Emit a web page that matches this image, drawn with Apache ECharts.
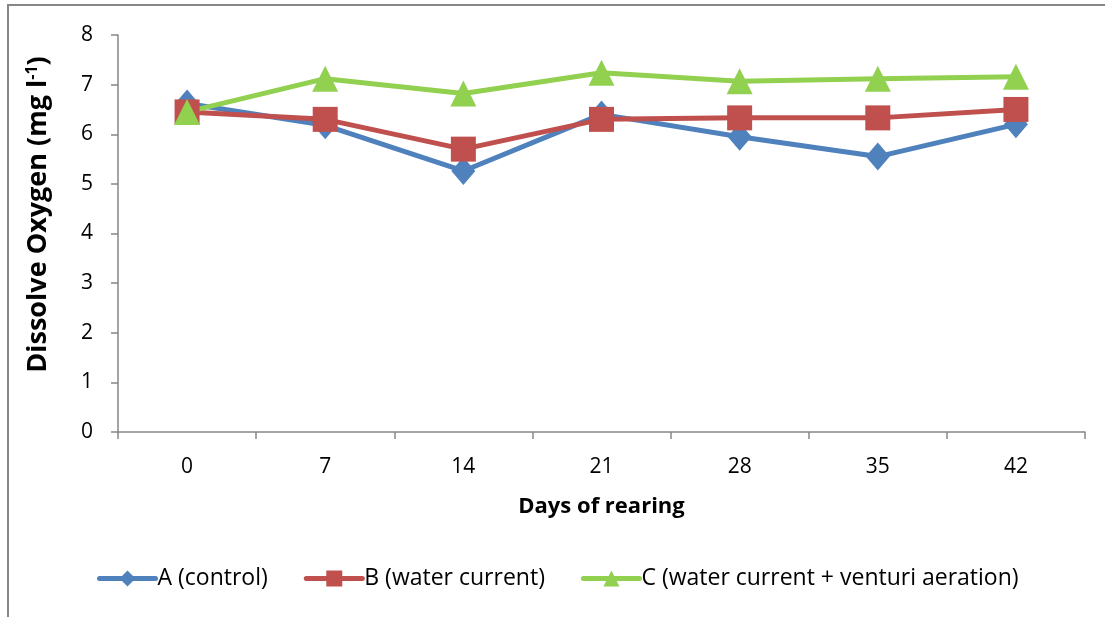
<!DOCTYPE html>
<html><head><meta charset="utf-8">
<script src="https://cdn.jsdelivr.net/npm/echarts@6/dist/echarts.min.js"></script>
<style>html,body{margin:0;padding:0;background:#fff}#c{width:1105px;height:617px}</style>
</head><body><div id="c"></div>
<script>
const days = ['0','7','14','21','28','35','42'];
const seriesA = [6.62, 6.18, 5.26, 6.40, 5.95, 5.55, 6.20];
const seriesB = [6.45, 6.30, 5.70, 6.30, 6.33, 6.33, 6.50];
const seriesC = [6.45, 7.12, 6.82, 7.24, 7.07, 7.12, 7.16];
const names = ['A (control)', 'B (water current)', 'C (water current + venturi aeration)'];
const yTicks = [0, 1, 2, 3, 4, 5, 6, 7, 8];

const font = 'Open Sans';
const chart = echarts.init(document.getElementById('c'));
const mk = (name, data, color, symbol, size) => ({
  name, type: 'line', data, symbol, symbolSize: size,
  lineStyle: {color, width: 5}, itemStyle: {color},
  emphasis: {disabled: true}, animation: false
});
chart.setOption({
  animation: false,
  graphic: [{type: 'rect', shape: {x: 8, y: 5, width: 1200, height: 700},
    style: {fill: 'none', stroke: '#878787', lineWidth: 2}, silent: true}],
  grid: {left: 118, right: 20, top: 35, bottom: 185},
  legend: {
    bottom: 22, left: 92, itemWidth: 56, itemHeight: 20, itemGap: 36,
    lineStyle: {width: 5, cap: 'round'},
    textStyle: {fontFamily: font, fontSize: 23, color: '#000', padding: [0, 0, 0, -3]},
    data: names
  },
  xAxis: {
    type: 'category', data: days, boundaryGap: true,
    name: 'Days of rearing', nameLocation: 'middle', nameGap: 64,
    nameTextStyle: {fontFamily: font, fontSize: 22, fontWeight: 'bold', color: '#000'},
    axisLine: {lineStyle: {color: '#868686', width: 1.5}},
    axisTick: {show: true, alignWithLabel: false, length: 7, lineStyle: {color: '#868686', width: 1.5}},
    axisLabel: {fontFamily: font, fontSize: 21, color: '#000', margin: 25}
  },
  yAxis: {
    type: 'value', min: 0, max: 8, interval: 1,
    name: 'Dissolve Oxygen (mg l{sup|-1})', nameLocation: 'middle', nameGap: 66, nameRotate: 90,
    nameTextStyle: {fontFamily: font, fontSize: 27, fontWeight: 'bold', color: '#000', padding: [0, 0, 0, 38],
      rich: {sup: {fontFamily: font, fontSize: 16, fontWeight: 'bold', color: '#000', verticalAlign: 'top', padding: [0,0,12,0]}}},
    splitLine: {show: false},
    axisLine: {show: true, lineStyle: {color: '#868686', width: 1.5}},
    axisTick: {show: true, length: 7, lineStyle: {color: '#868686', width: 1.5}},
    axisLabel: {fontFamily: font, fontSize: 21, color: '#000', margin: 25,
      formatter: v => yTicks.includes(v) ? String(v) : ''}
  },
  series: [
    mk(names[0], seriesA, '#4F81BD', 'diamond', [24, 28]),
    mk(names[1], seriesB, '#C0504D', 'rect', 25),
    mk(names[2], seriesC, '#92D050', 'triangle', [26, 26])
  ]
});
</script></body></html>
